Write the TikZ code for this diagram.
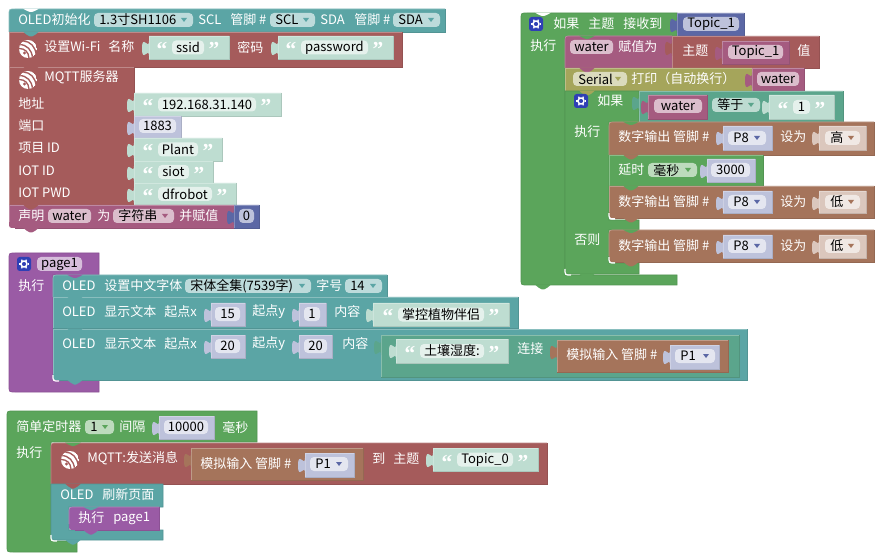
\documentclass[tikz,border=0pt]{standalone}
\usepackage{fontspec}
\setmainfont{Noto Sans CJK SC}
\newfontfamily\quotefont{Liberation Serif}[BoldFont={Liberation Serif Bold}]
\definecolor{cteal}{HTML}{5BA5A5}
\definecolor{cred}{HTML}{A55B5B}
\definecolor{cvar}{HTML}{A55B80}
\definecolor{cnum}{HTML}{5B67A5}
\definecolor{cgreen}{HTML}{5BA55B}
\definecolor{cmint}{HTML}{5BA58C}
\definecolor{colive}{HTML}{A5A55B}
\definecolor{cbrown}{HTML}{A5745B}
\definecolor{cpurple}{HTML}{9A5BA5}
\definecolor{sstr}{HTML}{BEDDD1}
\definecolor{snum}{HTML}{BDC2DB}
\definecolor{sbrown}{HTML}{DBC7BD}
\definecolor{cgear}{HTML}{2F3FB5}
\newcount\nid
\tikzset{
  x=.75pt,y=-.75pt,
  lab/.style={text=white,anchor=west,inner sep=0pt,font=\fontsize{9.75}{12}\selectfont},
  ftxt/.style={text=black,inner sep=0pt,font=\fontsize{9.75}{12}\selectfont},
  fbox/.style={fill=white,fill opacity=.6,rounded corners=3pt},
  cshape/.style={fill=#1,draw=#1!90!black,line width=.5pt,rounded corners=0pt},
}
% block: x0 y0 x1 y1 colour tl bl
\newcommand{\blk}[7]{%
  \fill[#5] ({#1},{#2+#6}) .. controls (#1,#2) .. ({#1+#6},#2) -- (#3,#2) -- (#3,#4) -- ({#1+#7},#4) .. controls (#1,#4) .. (#1,{#4-#7}) -- cycle;
  \draw[#5!72!white,line width=.5pt] (#1,{#4-#7}) -- ({#1},{#2+#6}) .. controls (#1,#2) .. ({#1+#6},#2) -- (#3,#2);
  \draw[#5!90!black,line width=.5pt] (#3,#2) -- (#3,#4) -- ({#1+#7},#4);
}
% plain value block: with tab on the left
\newcommand{\tabb}[3]{%
  \fill[#3] (#1,{#2+4}) -- (#1,{#2+5}) .. controls (#1,{#2+15}) and ({#1-7},{#2-3}) .. ({#1-7},{#2+12.5}) .. controls ({#1-7},{#2+28}) and (#1,{#2+10}) .. (#1,{#2+20}) -- cycle;
}
\newcommand{\vblk}[5]{\blk{#1}{#2}{#3}{#4}{#5}{0}{0}\tabb{#1}{#2}{#5}}
% notch/bump
\newcommand{\bump}[3]{%
  \fill[#3] ({#1+14},{#2-.4}) .. controls ({#1+17},{#2+1}) and ({#1+18},{#2+4.5}) .. ({#1+21},{#2+4.5}) -- ({#1+23},{#2+4.5}) .. controls ({#1+26},{#2+4.5}) and ({#1+27},{#2+1}) .. ({#1+30},{#2-.4}) -- cycle;
}
\newcommand{\dip}[3]{%
  \fill[#3] ({#1+14},{#2-.4}) .. controls ({#1+17},{#2+.5}) and ({#1+18},{#2+3}) .. ({#1+21},{#2+3}) -- ({#1+23},{#2+3}) .. controls ({#1+26},{#2+3}) and ({#1+27},{#2+.5}) .. ({#1+30},{#2-.4}) -- cycle;
}
\newcommand{\lbl}[3]{\global\advance\nid by 1 \node[lab] (n\the\nid) at (#1,#2) {#3};}
% field: x0 x1 y text
\newcommand{\fld}[4]{%
  \fill[fbox] (#1,{#3-7}) rectangle (#2,{#3+7});
  \global\advance\nid by 1 \node[ftxt] (n\the\nid) at ({(#1+#2)/2},{#3}) {#4};
}
% dropdown: x0 x1 y text arrowcolour
\newcommand{\dd}[5]{%
  \fill[fbox] (#1,{#3-7}) rectangle (#2,{#3+7});
  \global\advance\nid by 1 \node[ftxt,anchor=west] (n\the\nid) at ({#1+5},#3) {#4};
  \fill[#5] ({#2-12},{#3-2}) -- ({#2-6},{#3-2}) -- ({#2-9},{#3+2}) -- cycle;
}
% string block with quotes: bx0 bx1 y0 y1 fx0 fx1 text
\newcommand{\strb}[7]{%
  \vblk{#1}{#3}{#2}{#4}{sstr}
  \fld{#5}{#6}{(#3+#4)/2}{#7}
  \qmk{#5-10}{(#3+#4)/2}{“}
  \qmk{#6+10}{(#3+#4)/2}{”}
}
\newcommand{\qmk}[3]{\global\advance\nid by 1 \node[text=white,inner sep=0pt,anchor=base,font=\quotefont\bfseries\fontsize{16}{16}\selectfont] (n\the\nid) at ({#1},{#2+9.5}) {#3};}
% espressif icon
\newcommand{\esp}[3]{%
  \begin{scope}
    \clip (#1,#2) circle[radius=9];
    \fill[white] (#1,#2) circle[radius=9];
    \draw[#3,line width=1pt] ({#1-9},{#2-4.5}) .. controls ({#1-1},{#2-4.5}) and ({#1+4},{#2+1}) .. ({#1+4.5},{#2+9});
    \draw[#3,line width=1pt] ({#1-9},{#2-0.5}) .. controls ({#1-3},{#2-.5}) and ({#1+.5},{#2+3}) .. ({#1+1},{#2+9});
    \draw[#3,line width=1pt] ({#1-5},{#2-8}) .. controls ({#1+2},{#2-8}) and ({#1+8},{#2-2}) .. ({#1+8},{#2+6});
    \fill[#3] ({#1-3.5},{#2+4}) circle[radius=1.7];
  \end{scope}
}
% gear icon
\newcommand{\gear}[2]{%
  \fill[cgear,rounded corners=2pt] ({#1-7},{#2-7}) rectangle ({#1+7},{#2+7});
  \draw[white,line width=1.1pt] (#1,#2) circle[radius=3];
  \foreach \a in {0,60,...,300}{\draw[white,line width=1pt] ({#1+3.5*cos(\a)},{#2+3.5*sin(\a)}) -- ({#1+5*cos(\a)},{#2+5*sin(\a)});}
}
% white highlight of an inner corner
\newcommand{\icorn}[2]{\draw[white,line width=.9pt] (#1,{#2-6}) .. controls (#1,#2) .. ({#1+6},#2);}
\begin{document}
\begin{tikzpicture}
\useasboundingbox (0,0) rectangle (884,559);
\fill[white] (0,0) rectangle (884,559);
%% ---- setup stack
\blk{9}{9}{445}{32}{cteal}{6}{0}
\dip{9}{9}{white}
\lbl{18}{20}{OLED初始化}
\dd{94}{193}{20}{1.3寸SH1106}{cteal}
\lbl{198}{20}{SCL}
\lbl{230}{20}{管脚 \#}
\dd{270}{315}{20}{SCL}{cteal}
\lbl{320}{20}{SDA}
\lbl{354}{20}{管脚 \#}
\dd{393}{440}{20}{SDA}{cteal}
\blk{9}{32}{402}{67}{cred}{0}{0}
\bump{9}{32}{cteal}
\esp{28}{49}{cred}
\lbl{44}{47}{设置Wi-Fi}
\lbl{108}{47}{名称}
\strb{149}{229}{36}{59}{172}{204}{ssid}
\lbl{237}{47}{密码}
\strb{278}{393}{36}{59}{301}{368}{password}
\blk{9}{67}{134}{205}{cred}{0}{0}
\bump{9}{67}{cred}
\esp{28}{80}{cred}
\lbl{44}{77}{MQTT服务器}
\lbl{18}{103}{地址}
\strb{134}{281}{93}{116}{158}{256}{192.168.31.140}
\lbl{18}{126}{端口}
\vblk{134}{116}{181}{138}{snum}
\fld{139}{176}{126}{1883}
\lbl{18}{148}{项目 ID}
\strb{134}{222}{138}{161}{158}{198}{Plant}
\lbl{18}{171}{IOT ID}
\strb{134}{213}{161}{183}{158}{189}{siot}
\lbl{18}{193}{IOT PWD}
\strb{134}{236}{183}{205}{158}{212}{dfrobot}
\blk{9}{205}{234}{228}{cvar}{0}{6}
\bump{9}{205}{cred}
\bump{9}{228}{cvar}
\lbl{18}{216}{声明}
\fld{48}{91}{216}{water}
\lbl{97}{216}{为}
\dd{113}{174}{216}{字符串}{cvar}
\lbl{179}{216}{并赋值}
\vblk{234}{205}{259}{228}{cnum}
\fld{239}{254}{216}{0}
%% ---- if topic block
\path[cshape=cgreen] (521,19) .. controls (521,13) .. (527,13) -- (677,13) -- (677,37) -- (565,37) -- (565,275) -- (677,275) -- (677,285) -- (527,285) .. controls (521,285) .. (521,279) -- cycle;
\dip{521}{13}{white}
\bump{521}{285}{cgreen}
\gear{536}{24}
\lbl{553}{24}{如果}
\lbl{588}{24}{主题}
\lbl{623}{24}{接收到}
\vblk{677}{13}{744}{37}{cnum}
\fld{683}{739}{24}{Topic\_1}
\lbl{530}{46}{执行}
% water assign
\blk{565}{36}{672}{68}{cvar}{6}{0}
\dip{565}{36}{cgreen}
\fld{570}{613}{47}{water}
\lbl{618}{47}{赋值为}
\vblk{672}{36}{819}{68}{cred}
\lbl{682}{51}{主题}
\vblk{722}{41}{789}{64}{cvar}
\fld{728}{783}{52}{Topic\_1}
\lbl{797}{51}{值}
% serial
\blk{565}{68}{752}{91}{colive}{0}{0}
\bump{565}{68}{cvar}
\dd{573}{627}{79}{Serial}{colive}
\lbl{631}{79}{打印（自动换行）}
\vblk{752}{68}{804}{91}{cvar}
\fld{757}{799}{79}{water}
% inner if
\path[cshape=cgreen] (565,91) -- (639,91) -- (639,122) -- (609,122) -- (609,220) -- (639,220) -- (639,230) -- (609,230) -- (609,263) -- (639,263) -- (639,274) -- (571,274) .. controls (565,274) .. (565,268) -- cycle;
\bump{565}{91}{colive}
\bump{565}{274}{cgreen}
\gear{581}{101}
\lbl{597}{101}{如果}
\lbl{574}{132}{执行}
\lbl{574}{240}{否则}
\icorn{565}{275}
% condition
\vblk{639}{91}{843}{122}{cmint}
\vblk{648}{95}{707}{119}{cvar}
\fld{654}{702}{106}{water}
\dd{712}{760}{105}{等于}{cmint}
\strb{769}{834}{95}{119}{793}{810}{1}
% digital 1
\blk{609}{122}{874}{155}{cbrown}{6}{0}
\dip{609}{122}{cgreen}
\lbl{618}{137}{数字输出 管脚 \#}
\vblk{723}{126}{772}{150}{snum}
\dd{728}{766}{138}{P8}{cnum}
\lbl{780}{137}{设为}
\vblk{819}{126}{866}{150}{sbrown}
\dd{825}{860}{138}{高}{cbrown}
% delay
\blk{609}{155}{763}{186}{cgreen}{0}{0}
\bump{609}{155}{cbrown}
\lbl{618}{170}{延时}
\dd{648}{697}{170}{毫秒}{cgreen}
\vblk{707}{159}{755}{182}{snum}
\fld{711}{750}{170}{3000}
% digital 2
\blk{609}{186}{874}{218}{cbrown}{0}{6}
\bump{609}{186}{cgreen}
\bump{609}{218}{cbrown}
\lbl{618}{202}{数字输出 管脚 \#}
\vblk{723}{191}{772}{213}{snum}
\dd{728}{766}{202}{P8}{cnum}
\lbl{780}{202}{设为}
\vblk{819}{191}{866}{213}{sbrown}
\dd{825}{860}{202}{低}{cbrown}
\icorn{609}{219}
% digital 3
\blk{609}{230}{874}{262}{cbrown}{6}{6}
\dip{609}{230}{cgreen}
\bump{609}{262}{cbrown}
\lbl{618}{246}{数字输出 管脚 \#}
\vblk{723}{235}{772}{258}{snum}
\dd{728}{766}{246}{P8}{cnum}
\lbl{780}{246}{设为}
\vblk{819}{235}{866}{258}{sbrown}
\dd{825}{860}{246}{低}{cbrown}
\icorn{609}{263}
%% ---- page1
\path[cshape=cpurple] (9,259) .. controls (9,253) .. (15,253) -- (99,253) -- (99,275) -- (53,275) -- (53,380) -- (99,380) -- (99,392) -- (15,392) .. controls (9,392) .. (9,386) -- cycle;
\gear{24}{264}
\fld{37}{82}{264}{page1}
\lbl{18}{286}{执行}
\blk{53}{275}{387}{297}{cteal}{6}{0}
\dip{53}{275}{cpurple}
\lbl{62}{286}{OLED}
\lbl{104}{286}{设置中文字体}
\dd{185}{311}{286}{宋体全集(7539字)}{cteal}
\lbl{316}{286}{字号}
\dd{345}{382}{286}{14}{cteal}
\blk{53}{297}{518}{328}{cteal}{0}{0}
\bump{53}{297}{cteal}
\lbl{62}{312}{OLED}
\lbl{104}{312}{显示文本}
\lbl{164}{312}{起点x}
\vblk{211}{303}{245}{326}{snum}
\fld{215}{240}{314}{15}
\lbl{252}{312}{起点y}
\vblk{299}{303}{326}{326}{snum}
\fld{304}{320}{314}{1}
\lbl{334}{312}{内容}
\strb{373}{509}{303}{326}{398}{484}{掌控植物伴侣}
\blk{53}{329}{747}{380}{cteal}{0}{6}
\bump{53}{329}{cteal}
\bump{53}{380}{cteal}
\icorn{53}{381}
\lbl{62}{344}{OLED}
\lbl{104}{344}{显示文本}
\lbl{164}{344}{起点x}
\vblk{211}{335}{245}{358}{snum}
\fld{215}{240}{346}{20}
\lbl{252}{344}{起点y}
\vblk{299}{335}{332}{358}{snum}
\fld{304}{327}{346}{20}
\lbl{342}{344}{内容}
\vblk{381}{335}{739}{377}{cmint}
\strb{396}{508}{339}{363}{420}{484}{土壤湿度:}
\lbl{517}{349}{连接}
\vblk{557}{340}{728}{372}{cbrown}
\lbl{566}{355}{模拟输入 管脚 \#}
\vblk{670}{345}{719}{369}{snum}
\dd{675}{715}{356}{P1}{cnum}
%% ---- timer
\path[cshape=cgreen] (7,417) .. controls (7,411) .. (13,411) -- (257,411) -- (257,442) -- (51,442) -- (51,541) -- (77,541) -- (77,552) -- (13,552) .. controls (7,552) .. (7,546) -- cycle;
\lbl{16}{427}{简单定时器}
\dd{85}{114}{427}{1}{cgreen}
\lbl{119}{427}{间隔}
\vblk{159}{416}{214}{439}{snum}
\fld{164}{208}{427}{10000}
\lbl{222}{427}{毫秒}
\lbl{16}{453}{执行}
\blk{51}{443}{547}{484}{cred}{6}{0}
\dip{51}{443}{cgreen}
\esp{70}{460}{cred}
\lbl{87}{458}{MQTT:发送消息}
\vblk{191}{448}{363}{480}{cbrown}
\lbl{200}{464}{模拟输入 管脚 \#}
\vblk{305}{453}{354}{477}{snum}
\dd{310}{348}{464}{P1}{cnum}
\lbl{372}{459}{到}
\lbl{393}{459}{主题}
\strb{433}{538}{448}{471}{457}{513}{Topic\_0}
\path[cshape=cteal] (51,484) -- (163,484) -- (163,507) -- (69,507) -- (69,530) -- (163,530) -- (163,540) -- (57,540) .. controls (51,540) .. (51,534) -- cycle;
\bump{51}{484}{cred}
\bump{51}{540}{cteal}
\icorn{51}{541}
\lbl{60}{495}{OLED}
\lbl{102}{495}{刷新页面}
\blk{69}{507}{159}{530}{cpurple}{6}{6}
\dip{69}{507}{cteal}
\bump{69}{530}{cpurple}
\lbl{78}{518}{执行}
\lbl{113}{518}{page1}
\end{tikzpicture}
\end{document}
